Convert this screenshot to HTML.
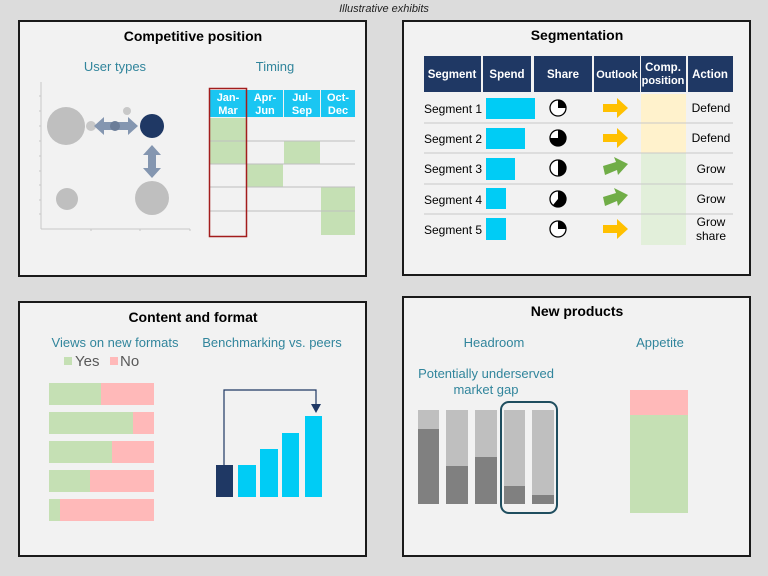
<!DOCTYPE html>
<html><head><meta charset="utf-8"><style>
html,body{margin:0;padding:0;background:#dcdcdc;}
svg{display:block;font-family:"Liberation Sans",Arial,sans-serif;}
</style></head><body>
<svg width="768" height="576" viewBox="0 0 768 576" xmlns="http://www.w3.org/2000/svg">
<rect width="768" height="576" fill="#dcdcdc"/>
<text x="384" y="12" font-size="11" font-style="italic" text-anchor="middle" fill="#222">Illustrative exhibits</text>
<g fill="#f2f2f2" stroke="#1a1a1a" stroke-width="2">
<rect x="19" y="21" width="347" height="255"/>
<rect x="403" y="21" width="347" height="254"/>
<rect x="19" y="302" width="347" height="254"/>
<rect x="403" y="297" width="347" height="259"/>
</g>
<!-- Panel 1 -->
<text x="193" y="41" font-size="14" font-weight="bold" text-anchor="middle" fill="#000">Competitive position</text>
<text x="115" y="71" font-size="13" text-anchor="middle" fill="#31859c">User types</text>
<text x="275" y="71" font-size="13" text-anchor="middle" fill="#31859c">Timing</text>
<g stroke="#c8c8c8" stroke-width="1">
<line x1="41" y1="82" x2="41" y2="229"/><line x1="41" y1="229" x2="190" y2="229"/>
<line x1="39" y1="96" x2="41" y2="96"/><line x1="39" y1="111" x2="41" y2="111"/><line x1="39" y1="126" x2="41" y2="126"/><line x1="39" y1="141" x2="41" y2="141"/><line x1="39" y1="156" x2="41" y2="156"/><line x1="39" y1="171" x2="41" y2="171"/><line x1="39" y1="185" x2="41" y2="185"/><line x1="39" y1="200" x2="41" y2="200"/><line x1="39" y1="214" x2="41" y2="214"/>
<line x1="91" y1="229" x2="91" y2="231"/><line x1="140" y1="229" x2="140" y2="231"/><line x1="190" y1="229" x2="190" y2="231"/>
</g>
<circle cx="66" cy="126" r="19" fill="#bfbfbf"/>
<circle cx="91" cy="126" r="5" fill="#c8c8c8"/>
<circle cx="127" cy="111" r="4" fill="#c8c8c8"/>
<circle cx="152" cy="126" r="12" fill="#1f3864"/>
<circle cx="152" cy="198" r="17" fill="#bfbfbf"/>
<circle cx="67" cy="199" r="11" fill="#bfbfbf"/>
<polygon points="94,126 104,117 104,122 128,122 128,117 138,126 128,135 128,130 104,130 104,135" fill="#8496b0"/>
<circle cx="115" cy="126" r="5" fill="#6b7d98"/>
<polygon points="152,145 161,155 156,155 156,168 161,168 152,178 143,168 148,168 148,155 143,155" fill="#8496b0"/>
<g fill="#1ac6f2">
<rect x="210" y="90" width="36" height="27"/><rect x="247" y="90" width="36" height="27"/><rect x="284" y="90" width="36" height="27"/><rect x="321" y="90" width="34" height="27"/>
</g>
<g font-size="11" fill="#fff" text-anchor="middle" font-weight="bold">
<text x="228" y="101">Jan-</text><text x="228" y="114">Mar</text>
<text x="265" y="101">Apr-</text><text x="265" y="114">Jun</text>
<text x="302" y="101">Jul-</text><text x="302" y="114">Sep</text>
<text x="338" y="101">Oct-</text><text x="338" y="114">Dec</text>
</g>
<g fill="#c5e0b4">
<rect x="210" y="118" width="36" height="46"/>
<rect x="284" y="141" width="36" height="23"/>
<rect x="247" y="164" width="36" height="23"/>
<rect x="321" y="187" width="34" height="48"/>
</g>
<g stroke="#bfbfbf" stroke-width="1">
<line x1="210" y1="141" x2="355" y2="141"/><line x1="210" y1="164" x2="355" y2="164"/><line x1="210" y1="187" x2="355" y2="187"/><line x1="210" y1="211" x2="355" y2="211"/>
</g>
<rect x="209.5" y="88.5" width="37" height="148" fill="none" stroke="#a31d1d" stroke-width="1.5"/>
<!-- Panel 2 -->
<text x="577" y="40" font-size="14" font-weight="bold" text-anchor="middle" fill="#000">Segmentation</text>
<g fill="#1f3864">
<rect x="424" y="56" width="57" height="36"/><rect x="483" y="56" width="48" height="36"/><rect x="534" y="56" width="58" height="36"/><rect x="594" y="56" width="46" height="36"/><rect x="641" y="56" width="45" height="36"/><rect x="688" y="56" width="45" height="36"/>
</g>
<g font-size="11.5" font-weight="bold" fill="#fff" text-anchor="middle">
<text x="452" y="78">Segment</text><text x="507" y="78">Spend</text><text x="563" y="78">Share</text><text x="617" y="78" font-size="11">Outlook</text>
<text x="663" y="71">Comp.</text><text x="663" y="84" font-size="11">position</text><text x="710" y="78">Action</text>
</g>
<rect x="641" y="94" width="45" height="59" fill="#fff2cc"/>
<rect x="641" y="153" width="45" height="92" fill="#e2efda"/>
<g stroke="#c8c8c8"><line x1="424" y1="123" x2="733" y2="123"/><line x1="424" y1="153" x2="733" y2="153"/><line x1="424" y1="184" x2="733" y2="184"/><line x1="424" y1="214" x2="733" y2="214"/></g>
<g font-size="12" fill="#000">
<text x="424" y="113">Segment 1</text><text x="424" y="143">Segment 2</text><text x="424" y="173">Segment 3</text><text x="424" y="204">Segment 4</text><text x="424" y="234">Segment 5</text>
</g>
<g fill="#00ccf5">
<rect x="486" y="98" width="49" height="21"/><rect x="486" y="128" width="39" height="21"/><rect x="486" y="158" width="29" height="22"/><rect x="486" y="188" width="20" height="21"/><rect x="486" y="218" width="20" height="22"/>
</g>
<g stroke="#000" stroke-width="1.3" fill="#fff">
<circle cx="558" cy="108" r="8"/><circle cx="558" cy="138" r="8"/><circle cx="558" cy="168" r="8"/><circle cx="558" cy="199" r="8"/><circle cx="558" cy="229" r="8"/>
</g>
<g fill="#000">
<path d="M558 108 L558 100 A8 8 0 0 1 566 108 Z"/>
<path d="M558 138 L558 130 A8 8 0 1 1 550 138 Z"/>
<path d="M558 168 L558 160 A8 8 0 0 1 558 176 Z"/>
<path d="M558 199 L558 191 A8 8 0 1 1 553 205 Z"/>
<path d="M558 229 L558 221 A8 8 0 0 1 566 229 Z"/>
</g>
<g fill="#ffc000">
<polygon points="603,104 617,104 617,98 628,108 617,118 617,112 603,112"/>
<polygon points="603,134 617,134 617,128 628,138 617,148 617,142 603,142"/>
<polygon points="603,225 617,225 617,219 628,229 617,239 617,233 603,233"/>
</g>
<g fill="#70ad47">
<polygon points="603,166 616,162 614,157 628,164 618,175 617,170 605,175"/>
<polygon points="603,197 616,193 614,188 628,195 618,206 617,201 605,206"/>
</g>
<g font-size="12" fill="#000" text-anchor="middle">
<text x="711" y="112">Defend</text><text x="711" y="142">Defend</text><text x="711" y="173">Grow</text><text x="711" y="203">Grow</text><text x="711" y="226">Grow</text><text x="711" y="240">share</text>
</g>
<!-- Panel 3 -->
<text x="193" y="322" font-size="14" font-weight="bold" text-anchor="middle" fill="#000">Content and format</text>
<text x="115" y="347" font-size="13" text-anchor="middle" fill="#31859c">Views on new formats</text>
<text x="272" y="347" font-size="13" text-anchor="middle" fill="#31859c">Benchmarking vs. peers</text>
<rect x="64" y="357" width="8" height="8" fill="#c5e0b4"/><text x="75" y="366" font-size="15" fill="#595959">Yes</text>
<rect x="110" y="357" width="8" height="8" fill="#ffb9b9"/><text x="120" y="366" font-size="15" fill="#595959">No</text>
<g fill="#ffb9b9">
<rect x="49" y="383" width="105" height="22"/><rect x="49" y="412" width="105" height="22"/><rect x="49" y="441" width="105" height="22"/><rect x="49" y="470" width="105" height="22"/><rect x="49" y="499" width="105" height="22"/>
</g>
<g fill="#c5e0b4">
<rect x="49" y="383" width="52" height="22"/><rect x="49" y="412" width="84" height="22"/><rect x="49" y="441" width="63" height="22"/><rect x="49" y="470" width="41" height="22"/><rect x="49" y="499" width="11" height="22"/>
</g>
<rect x="216" y="465" width="17" height="32" fill="#1f3864"/>
<g fill="#00ccf5">
<rect x="238" y="465" width="18" height="32"/><rect x="260" y="449" width="18" height="48"/><rect x="282" y="433" width="17" height="64"/><rect x="305" y="416" width="17" height="81"/>
</g>
<polyline points="224,465 224,390 316,390 316,405" fill="none" stroke="#1f3864" stroke-width="1.2"/>
<polygon points="311,404 321,404 316,413" fill="#1f3864"/>
<!-- Panel 4 -->
<text x="577" y="316" font-size="14" font-weight="bold" text-anchor="middle" fill="#000">New products</text>
<text x="494" y="347" font-size="13" text-anchor="middle" fill="#31859c">Headroom</text>
<text x="660" y="347" font-size="13" text-anchor="middle" fill="#31859c">Appetite</text>
<text x="486" y="378" font-size="13" text-anchor="middle" fill="#31859c">Potentially underserved</text>
<text x="486" y="394" font-size="13" text-anchor="middle" fill="#31859c">market gap</text>
<g fill="#bfbfbf">
<rect x="418" y="410" width="21" height="94"/><rect x="446" y="410" width="22" height="94"/><rect x="475" y="410" width="22" height="94"/><rect x="504" y="410" width="21" height="94"/><rect x="532" y="410" width="22" height="94"/>
</g>
<g fill="#808080">
<rect x="418" y="429" width="21" height="75"/><rect x="446" y="466" width="22" height="38"/><rect x="475" y="457" width="22" height="47"/><rect x="504" y="486" width="21" height="18"/><rect x="532" y="495" width="22" height="9"/>
</g>
<rect x="501" y="402" width="56" height="111" rx="8" fill="none" stroke="#1f4e5f" stroke-width="2"/>
<rect x="630" y="390" width="58" height="25" fill="#ffb9b9"/>
<rect x="630" y="415" width="58" height="98" fill="#c5e0b4"/>
</svg>
</body></html>
